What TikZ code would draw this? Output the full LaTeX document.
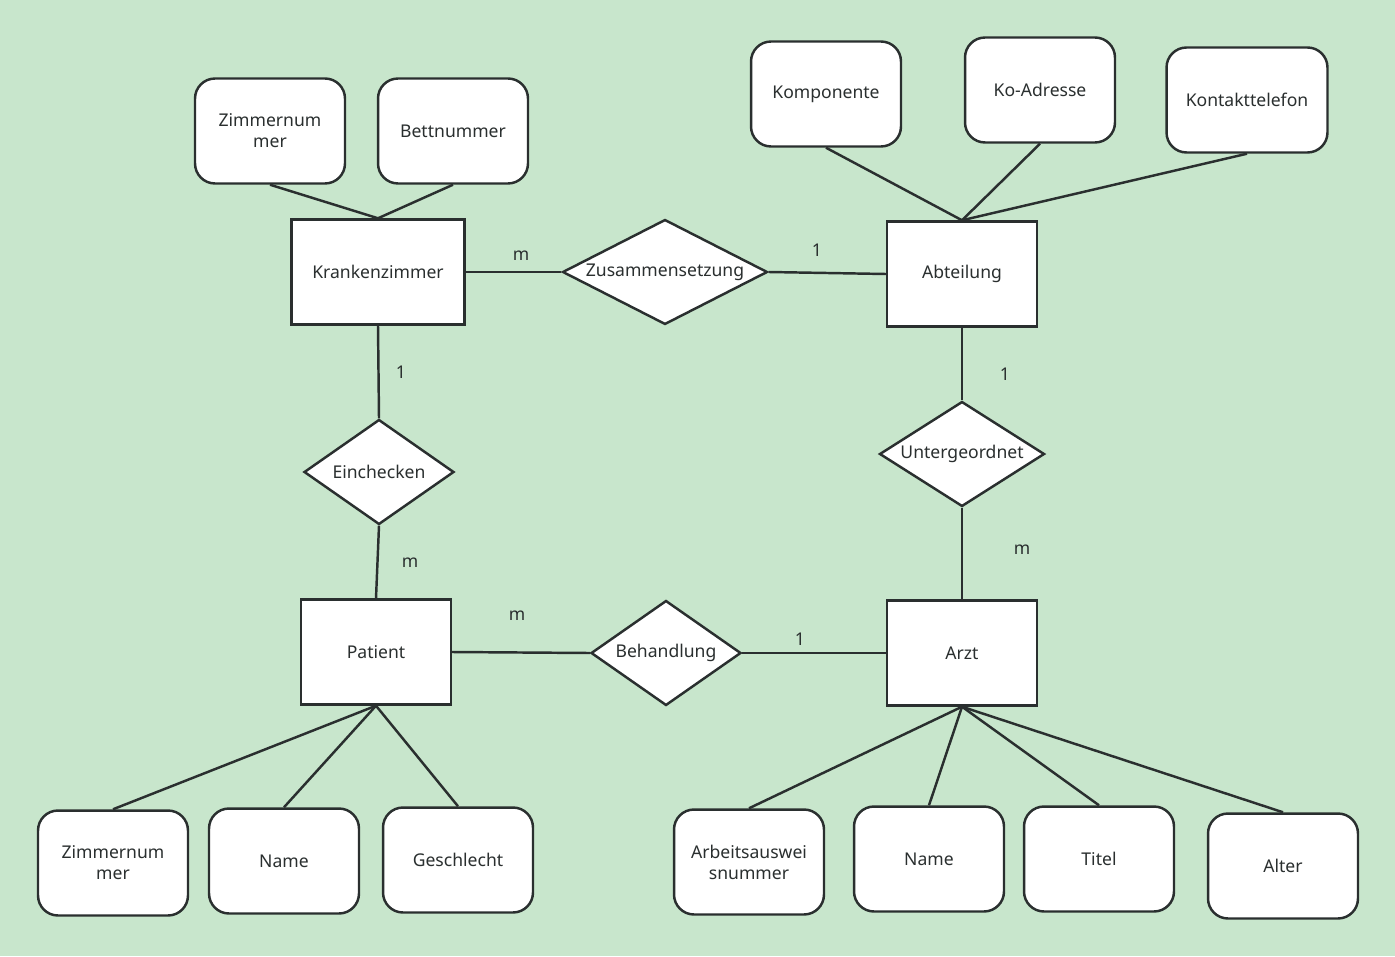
\documentclass[tikz,border=0pt]{standalone}
\usepackage{fontspec}
\setmainfont{Noto Sans}
\usetikzlibrary{shapes.geometric}
\definecolor{bgcol}{HTML}{C8E6CC}
\definecolor{linecol}{HTML}{2A2F2F}
\begin{document}
\begin{tikzpicture}[x=0.02cm,y=-0.02cm,line width=1.4pt,draw=linecol,
	font=\fontsize{10}{12}\selectfont,text=linecol,
	entity/.style={draw=linecol,fill=white,minimum width=3cm,minimum height=2.1cm,inner sep=1pt},
	attrib/.style={draw=linecol,fill=white,rounded corners=0.4cm,minimum width=3cm,minimum height=2.1cm,align=center,inner sep=1pt},
	relation/.style={draw=linecol,fill=white,diamond,aspect=1.43,minimum width=3cm,minimum height=2.1cm,inner sep=0pt},
	card/.style={inner sep=1pt}]
	%Background
	\fill[bgcol] (0,0) rectangle (1395,956);
	\useasboundingbox (0,0) rectangle (1395,956);
	%Entities
	\node [entity,minimum width=3.46cm] (kz) at (378,272) {Krankenzimmer};
	\node [entity] (abt) at (962,274) {Abteilung};
	\node [entity] (pat) at (376,652) {Patient};
	\node [entity] (arzt) at (962,653) {Arzt};
	%Relations
	\node [relation,minimum width=4.1cm,aspect=1.95] (zus) at (665,272) {Zusammensetzung};
	\node [relation] (ein) at (379,472) {Einchecken};
	\node [relation,minimum width=3.3cm,aspect=1.57] (unt) at (962,454) {Untergeordnet};
	\node [relation] (beh) at (666,653) {Behandlung};
	%Attributes
	\node [attrib] (kzNr) at (270,131) {Zimmernum\\mer};
	\node [attrib] (kzBett) at (453,131) {Bettnummer};
	\node [attrib] (abtKomp) at (826,94) {Komponente};
	\node [attrib] (abtAdr) at (1040,90) {Ko-Adresse};
	\node [attrib,minimum width=3.22cm] (abtTel) at (1247,100) {Kontakttelefon};
	\node [attrib] (patNr) at (113,863) {Zimmernum\\mer};
	\node [attrib] (patName) at (284,861) {Name};
	\node [attrib] (patGes) at (458,860) {Geschlecht};
	\node [attrib] (arztNr) at (749,862) {Arbeitsauswei\\snummer};
	\node [attrib] (arztName) at (929,859) {Name};
	\node [attrib] (arztTitel) at (1099,859) {Titel};
	\node [attrib] (arztAlter) at (1283,866) {Alter};
	%Attribute lines
	\foreach \a in {kzNr,kzBett} \draw (\a.south) -- (kz.north);
	\foreach \a in {abtKomp,abtAdr,abtTel} \draw (\a.south) -- (abt.north);
	\foreach \a in {patNr,patName,patGes} \draw (\a.north) -- (pat.south);
	\foreach \a in {arztNr,arztName,arztTitel,arztAlter} \draw (\a.north) -- (arzt.south);
	%Relation lines
	\draw (kz.east) -- (zus.west);
	\draw (zus.east) -- (abt.west);
	\draw (kz.south) -- (ein.north);
	\draw (ein.south) -- (pat.north);
	\draw (abt.south) -- (unt.north);
	\draw (unt.south) -- (arzt.north);
	\draw (pat.east) -- (beh.west);
	\draw (beh.east) -- (arzt.west);
	%Cardinalities
	\node [card] (c1) at (521,256) {m};
	\node [card] (c2) at (817,250) {1};
	\node [card] (c3) at (401,372) {1};
	\node [card] (c4) at (410,563) {m};
	\node [card] (c5) at (1005,374) {1};
	\node [card] (c6) at (1022,550) {m};
	\node [card] (c7) at (517,616) {m};
	\node [card] (c8) at (800,639) {1};
\end{tikzpicture}
\end{document}
